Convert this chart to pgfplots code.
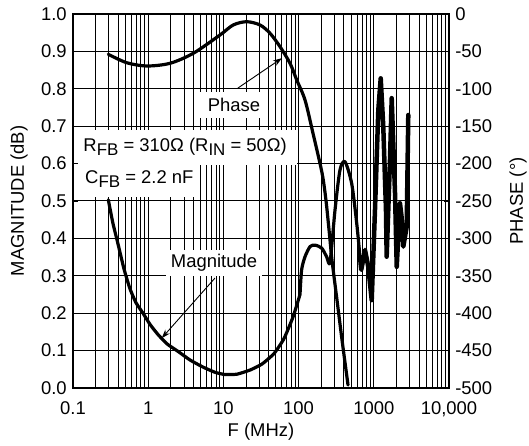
\documentclass[border=0pt]{standalone}
\usepackage{fontspec}
\setmainfont{Liberation Sans}
\usepackage{pgfplots}
\pgfplotsset{compat=1.18}
\usetikzlibrary{arrows.meta}
\newcommand{\sub}[1]{\raisebox{-4.3bp}{\fontsize{17}{17}\selectfont #1}}
\begin{document}
\fontsize{18.5}{22}\selectfont
\begin{tikzpicture}
\begin{axis}[name=ax, xmode=log, xmin=0.1, xmax=10000, ymin=0, ymax=1,
  width=376bp, height=374bp, scale only axis,
  /pgf/number format/assume math mode=true,
  xtick={0.1,1,10,100,1000,10000},
  xticklabels={0.1,1,10,100,1000,{10,000}},
  minor xtick={0.2,0.3,0.4,0.5,0.6,0.7,0.8,0.9,2,3,4,5,6,7,8,9,20,30,40,50,60,70,80,90,200,300,400,500,600,700,800,900,2000,3000,4000,5000,6000,7000,8000,9000},
  ytick={0,0.1,0.2,0.3,0.4,0.5,0.6,0.7,0.8,0.9,1},
  yticklabels={0.0,0.1,0.2,0.3,0.4,0.5,0.6,0.7,0.8,0.9,1.0},
  ytick pos=left, xtick pos=bottom,
  grid=both,
  major grid style={black, line width=1bp},
  minor grid style={black, line width=1bp},
  major tick length=0pt, minor tick length=0pt,
  axis line style={line width=1.5bp},
  xticklabel style={yshift=-7bp},
]
% white backgrounds of the annotation boxes
\fill[white] (axis cs:0.1,0.596) rectangle (axis cs:95.3,0.690);
\fill[white] (axis cs:0.1,0.511) rectangle (axis cs:4.32,0.596);
% magnitude
\addplot[line width=3.2bp, smooth, tension=0.3, line cap=round] coordinates {
(0.295,0.503)(0.340,0.44)(0.397,0.385)(0.477,0.318)(0.573,0.265)(0.688,0.228)
(0.853,0.200)(1.057,0.170)(1.350,0.143)(1.778,0.118)(2.49,0.098)(3.59,0.075)
(5.35,0.056)(7.73,0.042)(10.5,0.036)(15.2,0.037)(22.6,0.048)(32.6,0.064)
(47.1,0.092)(63.9,0.132)(84.3,0.19)(104.4,0.25)};
\addplot[line width=3.2bp, smooth, tension=0.45, line join=round] coordinates {
(104.4,0.25)(109.7,0.316)(121.7,0.351)(141.9,0.378)(165,0.382)(203,0.374)(236,0.351)
(262,0.337)(305,0.476)(355,0.583)(414,0.605)(508,0.547)(593,0.44)(655,0.351)};
\addplot[line width=4.5bp, line join=round, line cap=round] coordinates {
(655,0.351)(681,0.316)(764,0.369)(845,0.324)(938,0.235)(1037,0.476)(1148,0.743)
(1236,0.828)(1337,0.699)(1452,0.476)(1483,0.351)(1642,0.61)(1730,0.775)(1915,0.521)
(2018,0.324)(2229,0.494)(2340,0.458)(2467,0.378)(2738,0.431)(2875,0.73)};
% annotations
\node[anchor=base west, inner sep=0] at (axis cs:0.137,0.632)
  {R\sub{FB} = 310Ω (R\sub{IN} = 50Ω)};
\node[anchor=base west, inner sep=0] at (axis cs:0.1445,0.547)
  {C\sub{FB} = 2.2 nF};
\node[fill=white, inner xsep=8bp, inner ysep=6bp] at (axis cs:13.8,0.757) {Phase};
\node[fill=white, inner xsep=4.5bp, inner ysep=4.5bp] at (axis cs:7.5,0.334) {Magnitude};
\draw[line width=0.9bp, -{Stealth[length=9bp,width=6bp]}] (axis cs:15.6,0.802) -- (axis cs:60.1,0.882);
\draw[line width=0.9bp, -{Stealth[length=9bp,width=6bp]}] (axis cs:7.73,0.294) -- (axis cs:1.51,0.133);
\end{axis}
\begin{axis}[at={(ax.south west)}, anchor=south west,
  xmode=log, xmin=0.1, xmax=10000, ymin=-500, ymax=0,
  width=376bp, height=374bp, scale only axis,
  /pgf/number format/assume math mode=true,
  xtick=\empty,
  ytick={-500,-450,-400,-350,-300,-250,-200,-150,-100,-50,0},
  yticklabels={-500,-450,-400,-350,-300,-250,-200,-150,-100,-50,0},
  yticklabel pos=right, ytick pos=both,
  major tick length=5bp,
  tick style={black, line width=1bp},
  axis line style={line width=1.5bp},
]
\addplot[line width=3.2bp, smooth, tension=0.5, line cap=round] coordinates {
(0.295,-53.9)(0.517,-65.1)(0.955,-69.5)(1.95,-65.9)(3.98,-52.5)(9.0,-28.1)
(13.5,-14.7)(20.4,-10.3)(30.7,-14.7)(41.7,-25.8)(56.6,-43.7)(76.9,-65.9)(94.4,-88.2)
(121.7,-115)(155,-159)(205,-212.6)(231,-248.7)(254,-288.8)(278,-328.9)(324,-382.4)
(378,-435.8)(454,-496)};
\end{axis}
\node[xshift=-54bp, rotate=90] at (ax.west) {MAGNITUDE (dB)};
\node[xshift=69bp, rotate=90] at (ax.east) {PHASE (°)};
\node[yshift=-44bp] at (ax.south) {F (MHz)};
\pgfresetboundingbox
\useasboundingbox ([xshift=-73bp,yshift=-58bp]ax.south west) rectangle ([xshift=80bp,yshift=14bp]ax.north east);
\end{tikzpicture}
\end{document}
